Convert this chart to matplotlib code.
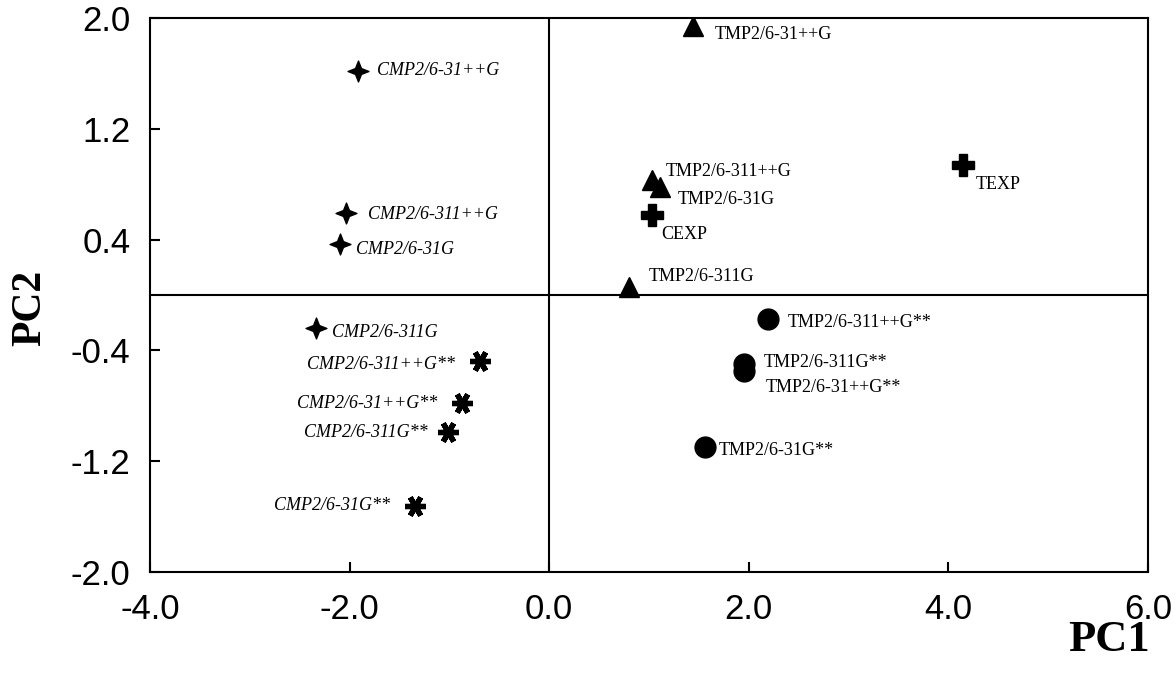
import numpy as np
import matplotlib
matplotlib.use('Agg')
import matplotlib.pyplot as plt
from matplotlib.path import Path

# PCA scores
cmp_labels = ['CMP2/6-31++G', 'CMP2/6-311++G', 'CMP2/6-31G', 'CMP2/6-311G']
cmp_x = [-1.92, -2.04, -2.10, -2.34]
cmp_y = [1.62, 0.59, 0.37, -0.24]

cmpd_labels = ['CMP2/6-311++G**', 'CMP2/6-31++G**', 'CMP2/6-311G**', 'CMP2/6-31G**']
cmpd_x = [-0.69, -0.87, -1.01, -1.34]
cmpd_y = [-0.48, -0.78, -0.99, -1.52]

tmp_labels = ['TMP2/6-31++G', 'TMP2/6-311++G', 'TMP2/6-31G', 'TMP2/6-311G']
tmp_x = [1.44, 1.03, 1.11, 0.80]
tmp_y = [1.94, 0.83, 0.78, 0.06]

exp_labels = ['CEXP', 'TEXP']
exp_x = [1.03, 4.15]
exp_y = [0.58, 0.94]

tmpd_labels = ['TMP2/6-311++G**', 'TMP2/6-311G**', 'TMP2/6-31++G**', 'TMP2/6-31G**']
tmpd_x = [2.19, 1.95, 1.95, 1.56]
tmpd_y = [-0.17, -0.50, -0.55, -1.10]

xticks = [-4.0, -2.0, 0.0, 2.0, 4.0, 6.0]
yticks = [2.0, 1.2, 0.4, -0.4, -1.2, -2.0]

# label offsets in points (dx, dy, ha)
cmp_off = [(14, 0, 'left'), (16, -1, 'left'), (12, -4, 'left'), (12, -3, 'left')]
cmpd_off = [(-18, -2, 'right'), (-18, 0, 'right'), (-15, 0, 'right'), (-18, 0, 'right')]
tmp_off = [(16, -6, 'left'), (10, 6, 'left'), (13, -9, 'left'), (14, 7, 'left')]
exp_off = [(7, -14, 'left'), (9, -14, 'left')]
tmpd_off = [(14, -3, 'left'), (14, 1, 'left'), (16, -12, 'left'), (10, -2, 'left')]

# four point star marker
ang = np.linspace(0, 2*np.pi, 9)[:-1] + np.pi/2
rad = np.array([1.0, 0.4]*4)
star4 = Path(np.column_stack([rad*np.cos(ang), rad*np.sin(ang)]).tolist() + [[0, 1]],
             [Path.MOVETO] + [Path.LINETO]*7 + [Path.CLOSEPOLY])

fig = plt.figure(figsize=(11.76, 6.82), dpi=100)
ax = fig.add_axes([150/1176, 1-572/682, 998/1176, 554/682])

ax.axhline(0, color='black', lw=1.5, zorder=1)
ax.axvline(0, color='black', lw=1.5, zorder=1)

ax.plot(cmp_x, cmp_y, ls='none', marker=star4, ms=15, color='black')
ax.plot(cmpd_x, cmpd_y, ls='none', marker=(6, 2, 90), ms=15, mew=3.8, color='black')
ax.plot(tmp_x, tmp_y, ls='none', marker='^', ms=15, color='black')
ax.plot(exp_x, exp_y, ls='none', marker='P', ms=16, color='black')
ax.plot(tmpd_x, tmpd_y, ls='none', marker='o', ms=15, color='black')

def put_labels(labels, xs, ys, offs, style):
    for lab, x, y, (dx, dy, ha) in zip(labels, xs, ys, offs):
        ax.annotate(lab, (x, y), xytext=(dx, dy), textcoords='offset points',
                    ha=ha, va='center', fontsize=13, family='Liberation Serif',
                    style=style)

put_labels(cmp_labels, cmp_x, cmp_y, cmp_off, 'italic')
put_labels(cmpd_labels, cmpd_x, cmpd_y, cmpd_off, 'italic')
put_labels(tmp_labels, tmp_x, tmp_y, tmp_off, 'normal')
put_labels(exp_labels, exp_x, exp_y, exp_off, 'normal')
put_labels(tmpd_labels, tmpd_x, tmpd_y, tmpd_off, 'normal')

ax.set_xlim(-4, 6)
ax.set_ylim(-2, 2)
ax.set_xticks(xticks)
ax.set_yticks(yticks)
ax.set_xticklabels(['%.1f' % v for v in xticks], fontsize=25, family='Liberation Sans')
ax.set_yticklabels(['%.1f' % v for v in yticks], fontsize=25, family='Liberation Sans')
ax.tick_params(direction='in', length=7, width=1.5)
ax.tick_params(axis='x', pad=15)
ax.tick_params(axis='y', pad=14)
for s in ax.spines.values():
    s.set_linewidth(1.5)

fig.text(1150/1176, 1-640/682, 'PC1', ha='right', va='center', fontsize=32,
         fontweight='bold', family='Liberation Serif')
fig.text(30/1176, 1-308/682, 'PC2', ha='center', va='center', rotation=90,
         fontsize=30, fontweight='bold', family='Liberation Serif')

fig.savefig('out.png', dpi=100)
